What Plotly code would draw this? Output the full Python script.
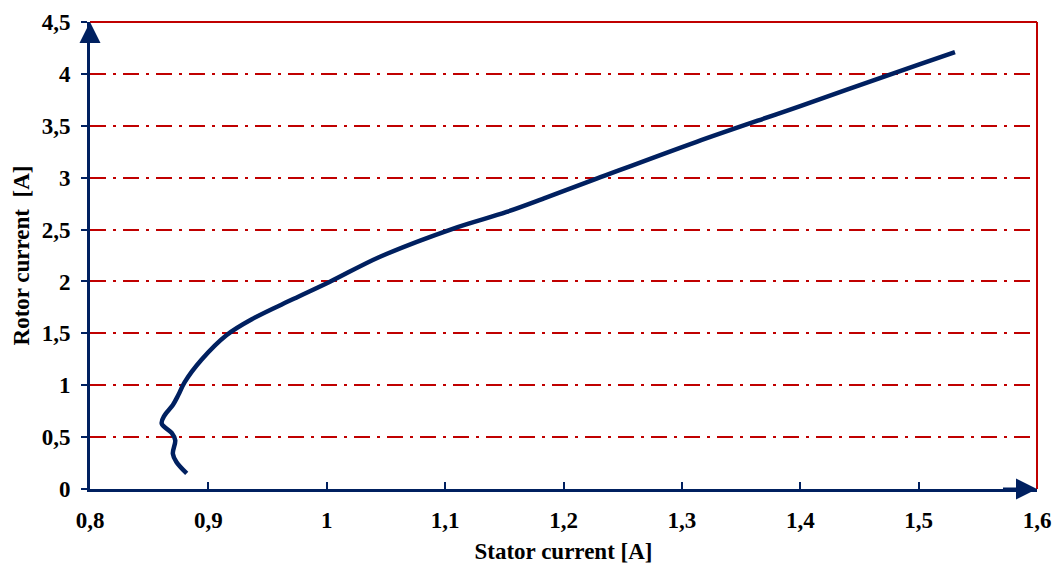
import plotly.graph_objects as go

stator_current = [0.8817, 0.873, 0.870, 0.872, 0.869, 0.8606, 0.863, 0.870, 0.8746, 0.880,
                  0.894, 0.9155, 0.938, 0.9717, 1.0027, 1.045, 1.107, 1.152, 1.1858,
                  1.228, 1.3125, 1.4, 1.5, 1.5307]
rotor_current = [0.15, 0.26, 0.34, 0.47, 0.54, 0.63, 0.71, 0.81, 0.905, 1.03,
                 1.243, 1.484, 1.644, 1.83, 1.997, 2.238, 2.51, 2.67, 2.81,
                 2.99, 3.346, 3.69, 4.09, 4.21]

x_ticks = [0.8, 0.9, 1.0, 1.1, 1.2, 1.3, 1.4, 1.5, 1.6]
y_ticks = [0, 0.5, 1, 1.5, 2, 2.5, 3, 3.5, 4, 4.5]

navy = "#002060"
red = "#C00000"
font = "Liberation Serif"
fsize = 23

fig = go.Figure()
fig.add_trace(go.Scatter(x=stator_current, y=rotor_current, mode="lines",
                         line=dict(color=navy, width=4.5, shape="spline", smoothing=1.0),
                         showlegend=False, hoverinfo="skip"))

fig.update_layout(
    width=1057, height=568,
    margin=dict(l=90, r=20, t=22, b=79, autoexpand=False),
    plot_bgcolor="white", paper_bgcolor="white",
    separators=", ",
    font=dict(family=font, size=fsize, color="black"),
    xaxis=dict(range=[0.8, 1.6], tickvals=x_ticks, showgrid=False, zeroline=False,
               showline=True, linecolor=navy, linewidth=3, automargin=False,
               ticks="inside", ticklen=7, tickwidth=2, tickcolor=navy,
               ticklabelstandoff=8,
               tickfont=dict(family=font, size=fsize, color="black", weight="bold"),
               title=dict(text="<b>Stator current [A]</b>", font=dict(family=font, size=fsize), standoff=12)),
    yaxis=dict(range=[0, 4.5], tickvals=y_ticks, showgrid=True, gridcolor=red, gridwidth=2,
               griddash="16px,7px,3px,7px", zeroline=False,
               showline=True, linecolor=navy, linewidth=3, automargin=False,
               ticks="outside", ticklen=6, tickwidth=2, tickcolor=navy,
               ticklabelstandoff=6,
               tickfont=dict(family=font, size=fsize, color="black", weight="bold"),
               title=dict(text="<b>Rotor current  [A]</b>", font=dict(family=font, size=fsize), standoff=6)),
)

# red border top and right
fig.add_shape(type="line", xref="paper", yref="paper", x0=0, x1=1, y0=1, y1=1,
              line=dict(color=red, width=2))
fig.add_shape(type="line", xref="paper", yref="paper", x0=1, x1=1, y0=0, y1=1,
              line=dict(color=red, width=2))

# arrows on axes
fig.add_annotation(x=0.8, y=4.5, ax=0.8, ay=4.3, xref="x", yref="y", axref="x", ayref="y",
                   showarrow=True, arrowhead=2, arrowsize=1.4, arrowwidth=3, arrowcolor=navy, text="")
fig.add_annotation(x=1.6, y=0, ax=1.57, ay=0, xref="x", yref="y", axref="x", ayref="y",
                   showarrow=True, arrowhead=2, arrowsize=1.4, arrowwidth=3, arrowcolor=navy, text="")

fig.write_html("out.html", config={"displayModeBar": False},
               post_script="document.body.style.margin='0';document.body.style.overflow='hidden';")
